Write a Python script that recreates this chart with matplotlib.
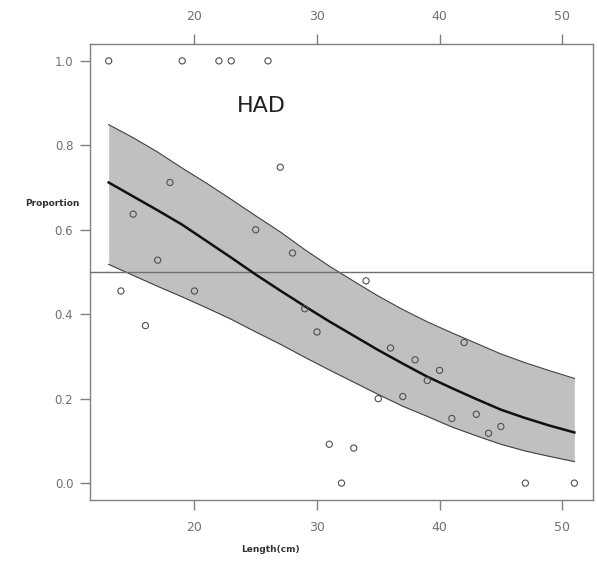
import matplotlib

matplotlib.use("Agg")
import matplotlib.pyplot as plt

# observed proportions by length
length_obs = [13, 14, 15, 16, 17, 18, 19, 20, 22, 23, 25, 26, 27, 28, 29, 30,
              31, 32, 33, 34, 35, 36, 37, 38, 39, 40, 41, 42, 43, 44, 45, 47, 51]
prop_obs = [1.0, 0.455, 0.637, 0.373, 0.528, 0.712, 1.0, 0.455, 1.0, 1.0, 0.6, 1.0,
            0.748, 0.545, 0.413, 0.358, 0.092, 0.0, 0.083, 0.479, 0.2, 0.32, 0.205,
            0.292, 0.243, 0.267, 0.153, 0.333, 0.163, 0.118, 0.134, 0.0, 0.0]

# fitted curve and confidence band
length_fit = [13, 15, 17, 19, 21, 23, 25, 27, 29, 31, 33, 35, 37, 39, 41, 43, 45, 47, 49, 51]
prop_fit = [0.712, 0.679, 0.646, 0.612, 0.573, 0.534, 0.494, 0.456, 0.419, 0.383,
            0.349, 0.315, 0.283, 0.252, 0.225, 0.199, 0.174, 0.154, 0.136, 0.12]
prop_upper = [0.849, 0.818, 0.784, 0.746, 0.710, 0.672, 0.633, 0.595, 0.553, 0.514,
              0.478, 0.443, 0.411, 0.382, 0.356, 0.331, 0.306, 0.285, 0.266, 0.248]
prop_lower = [0.518, 0.492, 0.466, 0.441, 0.415, 0.388, 0.358, 0.329, 0.298, 0.268,
              0.239, 0.210, 0.182, 0.158, 0.133, 0.112, 0.092, 0.076, 0.063, 0.051]

x_ticks = [20, 30, 40, 50]
y_ticks = [0.0, 0.2, 0.4, 0.6, 0.8, 1.0]

fig = plt.figure(figsize=(5.97, 5.66), dpi=100)
ax = fig.add_axes([0.1508, 0.1166, 0.8425, 0.8057])

ax.fill_between(length_fit, prop_lower, prop_upper, color="#c0c0c0", linewidth=0, zorder=1)
ax.plot(length_fit, prop_upper, color="#404040", linewidth=0.8, zorder=2)
ax.plot(length_fit, prop_lower, color="#404040", linewidth=0.8, zorder=2)
ax.axhline(0.5, color="#707070", linewidth=1.0, zorder=3)
ax.plot(length_fit, prop_fit, color="#111111", linewidth=1.8, zorder=4)
ax.scatter(length_obs, prop_obs, s=20, facecolors="none", edgecolors="#505050",
           linewidths=0.8, zorder=5)

ax.text(25.5, 0.893, "HAD", fontsize=16, color="#222222", ha="center", va="center")

ax.set_xlim(11.48, 52.52)
ax.set_ylim(-0.04, 1.04)
ax.set_xticks(x_ticks)
ax.set_yticks(y_ticks)
ax.set_yticklabels([f"{v:.1f}" for v in y_ticks])

for s in ax.spines.values():
    s.set_color("#808080")
    s.set_linewidth(1.0)

ax.tick_params(axis="x", which="both", top=True, labeltop=True, bottom=True,
               labelbottom=True, direction="out", length=7, width=1,
               color="#808080", labelcolor="#707070", labelsize=9, pad=8)
ax.tick_params(axis="y", direction="out", length=7, width=1, right=False,
               color="#808080", labelcolor="#707070", labelsize=8.5, pad=5)

fig.text(52 / 597, 1 - 203 / 566, "Proportion", fontsize=6.5, fontweight="bold",
         color="#333333", ha="center", va="center")
fig.text(270 / 597, 1 - 549 / 566, "Length(cm)", fontsize=6.5, fontweight="bold",
         color="#333333", ha="center", va="center")

fig.savefig("out.png", dpi=100, facecolor="white")
